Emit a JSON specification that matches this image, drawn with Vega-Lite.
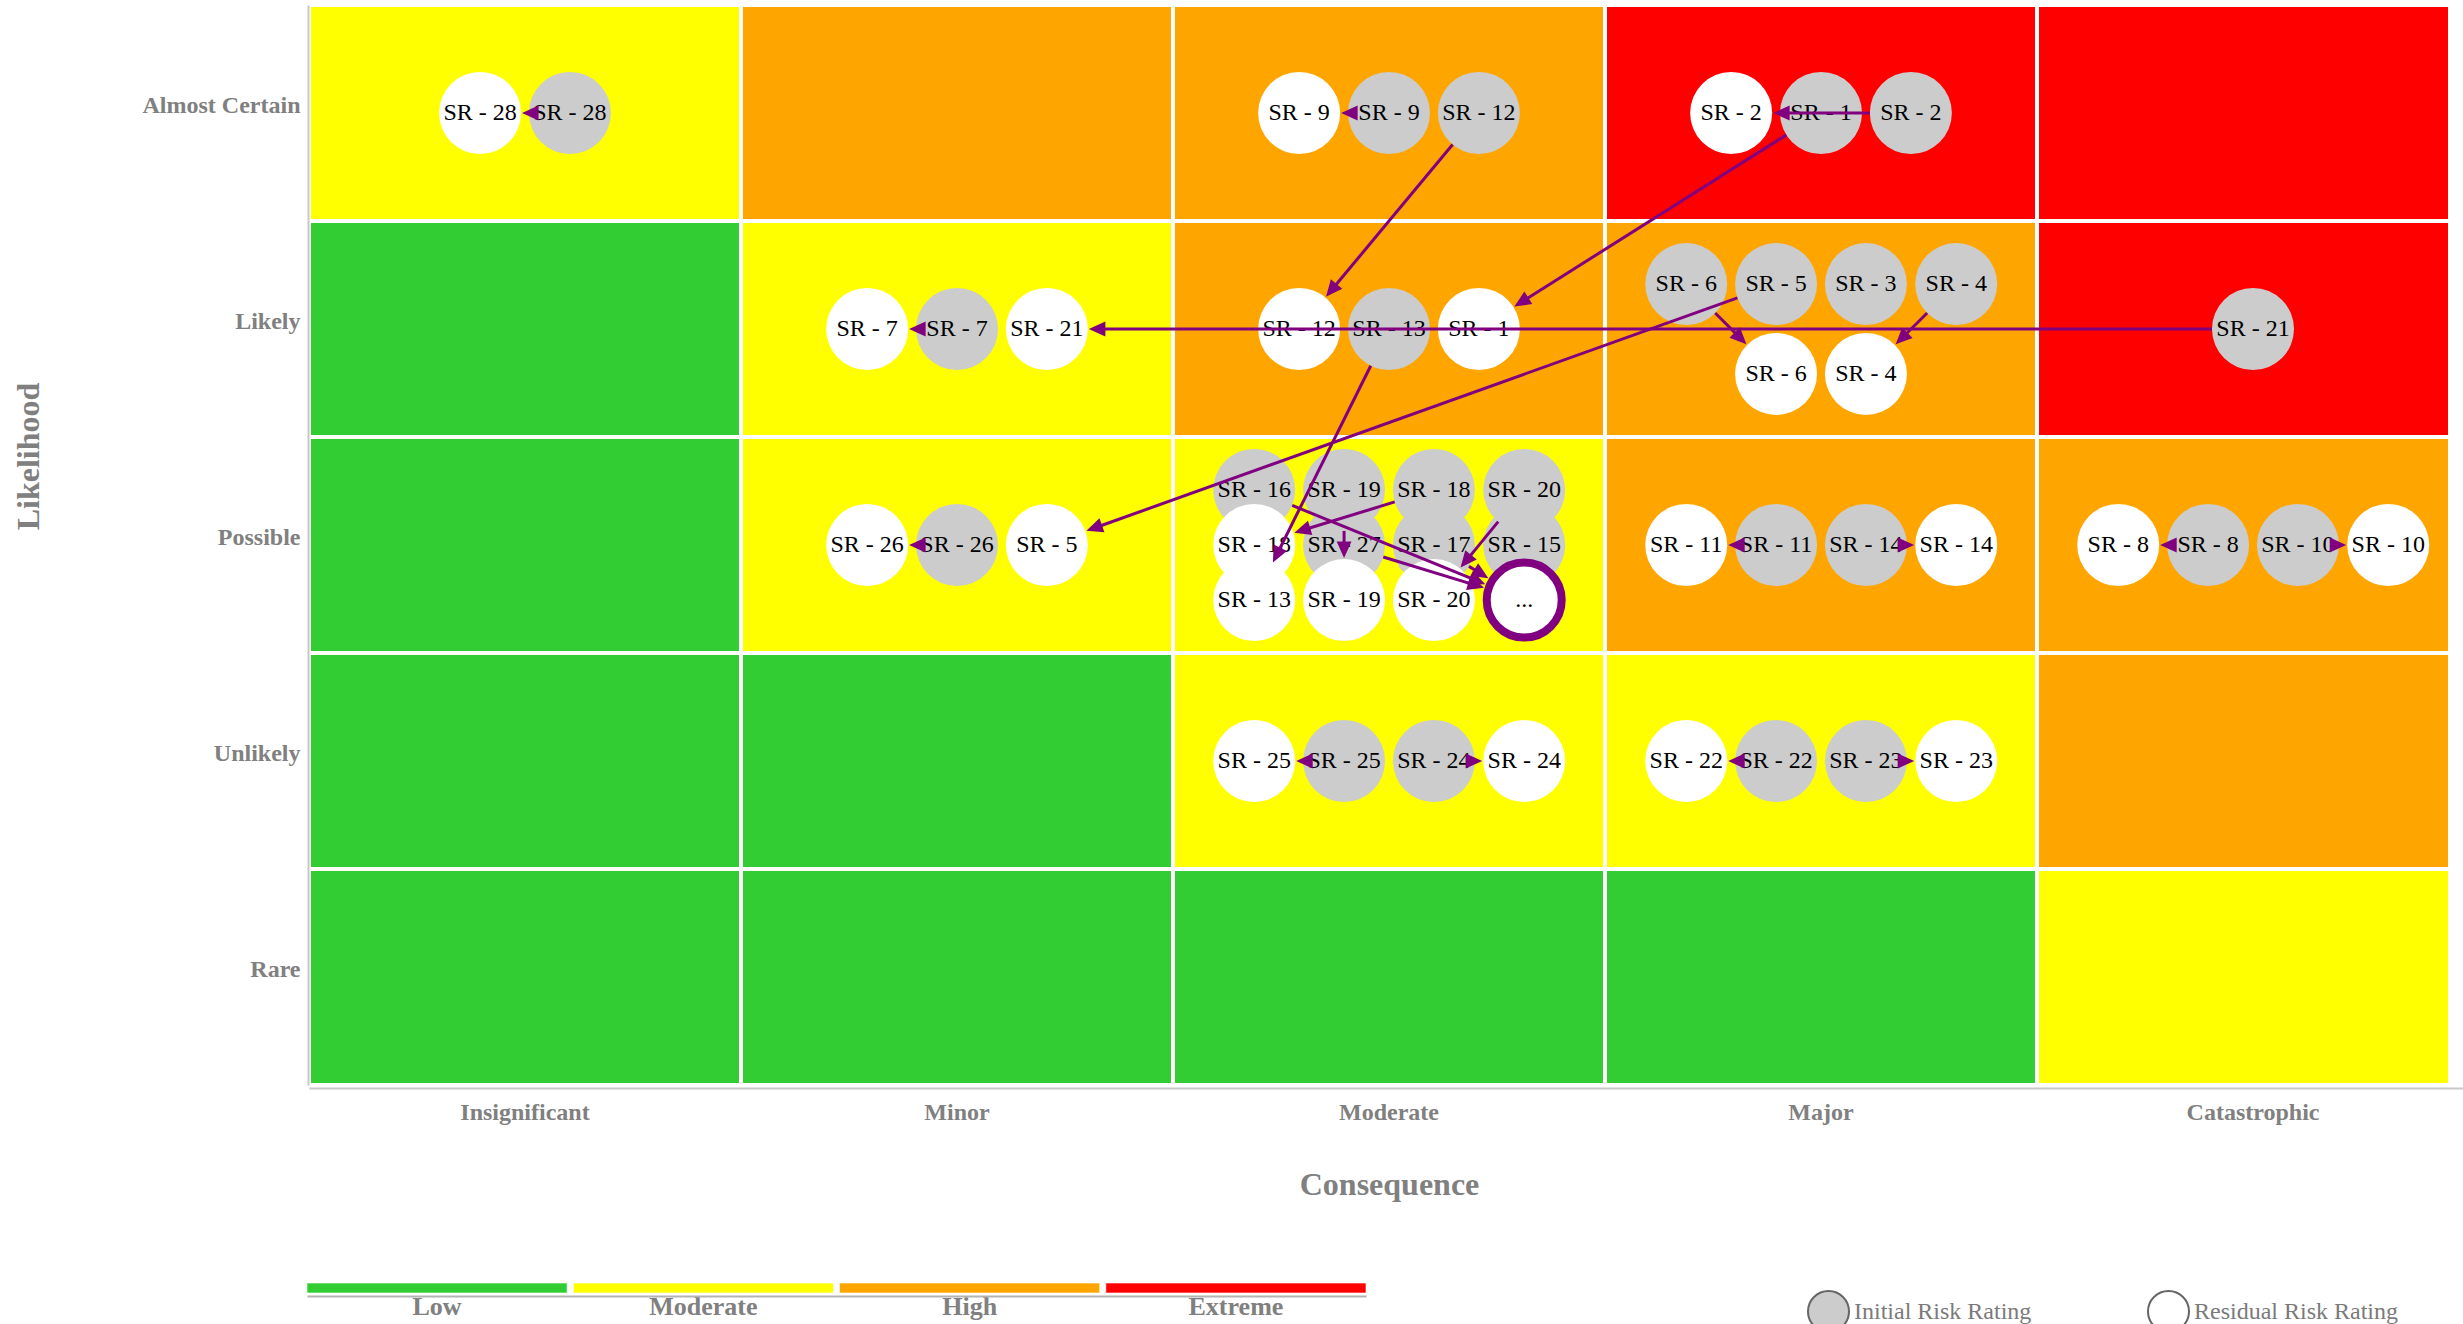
{
  "$schema": "https://vega.github.io/schema/vega-lite/v6.json",
  "width": 2139,
  "height": 1080,
  "autosize": {"type": "none"},
  "padding": {"left": 309, "top": 5, "right": 15, "bottom": 239},
  "background": "white",
  "config": {
    "view": {"stroke": null},
    "font": "Liberation Serif",
    "axis": {
      "ticks": false, "tickSize": 0, "grid": false,
      "domainColor": "#c8c8c8", "domainWidth": 2,
      "labelFont": "Liberation Serif", "titleFont": "Liberation Serif",
      "labelColor": "#808080", "titleColor": "#808080",
      "labelFontWeight": "bold", "titleFontWeight": "bold"
    }
  },
  "datasets": {
    "cells": [
      {"consequence": "Insignificant", "likelihood": "Almost Certain", "risk": "Moderate"},
      {"consequence": "Minor", "likelihood": "Almost Certain", "risk": "High"},
      {"consequence": "Moderate", "likelihood": "Almost Certain", "risk": "High"},
      {"consequence": "Major", "likelihood": "Almost Certain", "risk": "Extreme"},
      {"consequence": "Catastrophic", "likelihood": "Almost Certain", "risk": "Extreme"},
      {"consequence": "Insignificant", "likelihood": "Likely", "risk": "Low"},
      {"consequence": "Minor", "likelihood": "Likely", "risk": "Moderate"},
      {"consequence": "Moderate", "likelihood": "Likely", "risk": "High"},
      {"consequence": "Major", "likelihood": "Likely", "risk": "High"},
      {"consequence": "Catastrophic", "likelihood": "Likely", "risk": "Extreme"},
      {"consequence": "Insignificant", "likelihood": "Possible", "risk": "Low"},
      {"consequence": "Minor", "likelihood": "Possible", "risk": "Moderate"},
      {"consequence": "Moderate", "likelihood": "Possible", "risk": "Moderate"},
      {"consequence": "Major", "likelihood": "Possible", "risk": "High"},
      {"consequence": "Catastrophic", "likelihood": "Possible", "risk": "High"},
      {"consequence": "Insignificant", "likelihood": "Unlikely", "risk": "Low"},
      {"consequence": "Minor", "likelihood": "Unlikely", "risk": "Low"},
      {"consequence": "Moderate", "likelihood": "Unlikely", "risk": "Moderate"},
      {"consequence": "Major", "likelihood": "Unlikely", "risk": "Moderate"},
      {"consequence": "Catastrophic", "likelihood": "Unlikely", "risk": "High"},
      {"consequence": "Insignificant", "likelihood": "Rare", "risk": "Low"},
      {"consequence": "Minor", "likelihood": "Rare", "risk": "Low"},
      {"consequence": "Moderate", "likelihood": "Rare", "risk": "Low"},
      {"consequence": "Major", "likelihood": "Rare", "risk": "Low"},
      {"consequence": "Catastrophic", "likelihood": "Rare", "risk": "Moderate"}
    ],
    "levels": [
      {"risk": "Low"}, {"risk": "Moderate"}, {"risk": "High"}, {"risk": "Extreme"}
    ],
    "circles": [
      {"id": "SR - 28", "rating": "Residual Risk Rating", "x": 0.896, "y": 5},
      {"id": "SR - 28", "rating": "Initial Risk Rating", "x": 1.104, "y": 5},
      {"id": "SR - 9", "rating": "Residual Risk Rating", "x": 2.792, "y": 5},
      {"id": "SR - 9", "rating": "Initial Risk Rating", "x": 3.0, "y": 5},
      {"id": "SR - 12", "rating": "Initial Risk Rating", "x": 3.208, "y": 5},
      {"id": "SR - 2", "rating": "Residual Risk Rating", "x": 3.792, "y": 5},
      {"id": "SR - 1", "rating": "Initial Risk Rating", "x": 4.0, "y": 5},
      {"id": "SR - 2", "rating": "Initial Risk Rating", "x": 4.208, "y": 5},
      {"id": "SR - 7", "rating": "Residual Risk Rating", "x": 1.792, "y": 4},
      {"id": "SR - 7", "rating": "Initial Risk Rating", "x": 2.0, "y": 4},
      {"id": "SR - 21", "rating": "Residual Risk Rating", "x": 2.208, "y": 4},
      {"id": "SR - 12", "rating": "Residual Risk Rating", "x": 2.792, "y": 4},
      {"id": "SR - 13", "rating": "Initial Risk Rating", "x": 3.0, "y": 4},
      {"id": "SR - 1", "rating": "Residual Risk Rating", "x": 3.208, "y": 4},
      {"id": "SR - 6", "rating": "Initial Risk Rating", "x": 3.688, "y": 4.208},
      {"id": "SR - 5", "rating": "Initial Risk Rating", "x": 3.896, "y": 4.208},
      {"id": "SR - 3", "rating": "Initial Risk Rating", "x": 4.104, "y": 4.208},
      {"id": "SR - 4", "rating": "Initial Risk Rating", "x": 4.313, "y": 4.208},
      {"id": "SR - 6", "rating": "Residual Risk Rating", "x": 3.896, "y": 3.792},
      {"id": "SR - 4", "rating": "Residual Risk Rating", "x": 4.104, "y": 3.792},
      {"id": "SR - 21", "rating": "Initial Risk Rating", "x": 5.0, "y": 4},
      {"id": "SR - 26", "rating": "Residual Risk Rating", "x": 1.792, "y": 3},
      {"id": "SR - 26", "rating": "Initial Risk Rating", "x": 2.0, "y": 3},
      {"id": "SR - 5", "rating": "Residual Risk Rating", "x": 2.208, "y": 3},
      {"id": "SR - 16", "rating": "Initial Risk Rating", "x": 2.688, "y": 3.255},
      {"id": "SR - 19", "rating": "Initial Risk Rating", "x": 2.896, "y": 3.255},
      {"id": "SR - 18", "rating": "Initial Risk Rating", "x": 3.104, "y": 3.255},
      {"id": "SR - 20", "rating": "Initial Risk Rating", "x": 3.313, "y": 3.255},
      {"id": "SR - 18", "rating": "Residual Risk Rating", "x": 2.688, "y": 3},
      {"id": "SR - 27", "rating": "Initial Risk Rating", "x": 2.896, "y": 3},
      {"id": "SR - 17", "rating": "Initial Risk Rating", "x": 3.104, "y": 3},
      {"id": "SR - 15", "rating": "Initial Risk Rating", "x": 3.313, "y": 3},
      {"id": "SR - 13", "rating": "Residual Risk Rating", "x": 2.688, "y": 2.745},
      {"id": "SR - 19", "rating": "Residual Risk Rating", "x": 2.896, "y": 2.745},
      {"id": "SR - 20", "rating": "Residual Risk Rating", "x": 3.104, "y": 2.745},
      {"id": "SR - 11", "rating": "Residual Risk Rating", "x": 3.688, "y": 3},
      {"id": "SR - 11", "rating": "Initial Risk Rating", "x": 3.896, "y": 3},
      {"id": "SR - 14", "rating": "Initial Risk Rating", "x": 4.104, "y": 3},
      {"id": "SR - 14", "rating": "Residual Risk Rating", "x": 4.313, "y": 3},
      {"id": "SR - 8", "rating": "Residual Risk Rating", "x": 4.688, "y": 3},
      {"id": "SR - 8", "rating": "Initial Risk Rating", "x": 4.896, "y": 3},
      {"id": "SR - 10", "rating": "Initial Risk Rating", "x": 5.104, "y": 3},
      {"id": "SR - 10", "rating": "Residual Risk Rating", "x": 5.313, "y": 3},
      {"id": "SR - 25", "rating": "Residual Risk Rating", "x": 2.688, "y": 2},
      {"id": "SR - 25", "rating": "Initial Risk Rating", "x": 2.896, "y": 2},
      {"id": "SR - 24", "rating": "Initial Risk Rating", "x": 3.104, "y": 2},
      {"id": "SR - 24", "rating": "Residual Risk Rating", "x": 3.313, "y": 2},
      {"id": "SR - 22", "rating": "Residual Risk Rating", "x": 3.688, "y": 2},
      {"id": "SR - 22", "rating": "Initial Risk Rating", "x": 3.896, "y": 2},
      {"id": "SR - 23", "rating": "Initial Risk Rating", "x": 4.104, "y": 2},
      {"id": "SR - 23", "rating": "Residual Risk Rating", "x": 4.313, "y": 2}
    ],
    "more": [
      {"id": "...", "x": 3.313, "y": 2.745}
    ],
    "arrows": [
      {"id": "SR - 28", "x1": 1.104, "y1": 5, "x2": 0.896, "y2": 5},
      {"id": "SR - 9", "x1": 3.0, "y1": 5, "x2": 2.792, "y2": 5},
      {"id": "SR - 12", "x1": 3.208, "y1": 5, "x2": 2.792, "y2": 4},
      {"id": "SR - 2", "x1": 4.208, "y1": 5, "x2": 3.792, "y2": 5},
      {"id": "SR - 1", "x1": 4.0, "y1": 5, "x2": 3.208, "y2": 4},
      {"id": "SR - 7", "x1": 2.0, "y1": 4, "x2": 1.792, "y2": 4},
      {"id": "SR - 21", "x1": 5.0, "y1": 4, "x2": 2.208, "y2": 4},
      {"id": "SR - 13", "x1": 3.0, "y1": 4, "x2": 2.688, "y2": 2.745},
      {"id": "SR - 6", "x1": 3.688, "y1": 4.208, "x2": 3.896, "y2": 3.792},
      {"id": "SR - 4", "x1": 4.313, "y1": 4.208, "x2": 4.104, "y2": 3.792},
      {"id": "SR - 5", "x1": 3.896, "y1": 4.208, "x2": 2.208, "y2": 3},
      {"id": "SR - 26", "x1": 2.0, "y1": 3, "x2": 1.792, "y2": 3},
      {"id": "SR - 16", "x1": 2.688, "y1": 3.255, "x2": 3.313, "y2": 2.745},
      {"id": "SR - 19", "x1": 2.896, "y1": 3.255, "x2": 2.896, "y2": 2.745},
      {"id": "SR - 18", "x1": 3.104, "y1": 3.255, "x2": 2.688, "y2": 3},
      {"id": "SR - 20", "x1": 3.313, "y1": 3.255, "x2": 3.104, "y2": 2.745},
      {"id": "SR - 27", "x1": 2.896, "y1": 3, "x2": 3.313, "y2": 2.745},
      {"id": "SR - 17", "x1": 3.104, "y1": 3, "x2": 3.313, "y2": 2.745},
      {"id": "SR - 11", "x1": 3.896, "y1": 3, "x2": 3.688, "y2": 3},
      {"id": "SR - 14", "x1": 4.104, "y1": 3, "x2": 4.313, "y2": 3},
      {"id": "SR - 8", "x1": 4.896, "y1": 3, "x2": 4.688, "y2": 3},
      {"id": "SR - 10", "x1": 5.104, "y1": 3, "x2": 5.313, "y2": 3},
      {"id": "SR - 25", "x1": 2.896, "y1": 2, "x2": 2.688, "y2": 2},
      {"id": "SR - 24", "x1": 3.104, "y1": 2, "x2": 3.313, "y2": 2},
      {"id": "SR - 22", "x1": 3.896, "y1": 2, "x2": 3.688, "y2": 2},
      {"id": "SR - 23", "x1": 4.104, "y1": 2, "x2": 4.313, "y2": 2}
    ]
  },
  "layer": [
    {
      "data": {"name": "cells"},
      "mark": {"type": "rect", "clip": true, "stroke": "#ffffff", "strokeWidth": 4},
      "encoding": {
        "x": {
          "field": "consequence", "type": "nominal",
          "scale": {"domain": ["Insignificant", "Minor", "Moderate", "Major", "Catastrophic"], "range": [0, 2160], "paddingInner": 0, "paddingOuter": 0},
          "axis": {"title": "Consequence", "orient": "bottom", "offset": 3, "labelAngle": 0, "labelFontSize": 24, "labelBaseline": "top", "labelPadding": 12, "titleFontSize": 32, "titleY": 96, "titleBaseline": "middle"}
        },
        "y": {
          "field": "likelihood", "type": "nominal",
          "scale": {"domain": ["Almost Certain", "Likely", "Possible", "Unlikely", "Rare"], "paddingInner": 0, "paddingOuter": 0},
          "axis": {"title": "Likelihood", "orient": "left", "offset": 1, "labelFontSize": 24, "labelBaseline": "alphabetic", "labelPadding": 8, "titleFontSize": 32, "titleX": -280, "titleY": 451, "titleAngle": 270, "titleBaseline": "middle", "titleAlign": "center"}
        },
        "fill": {
          "field": "risk", "type": "nominal",
          "scale": {"domain": ["Low", "Moderate", "High", "Extreme"], "range": ["#32cd32", "#ffff00", "#ffa500", "#ff0000"]},
          "legend": null
        }
      }
    },
    {
      "layer": [
        {
          "data": {"name": "circles"},
          "mark": {"type": "circle", "size": 6724, "opacity": 1, "strokeWidth": 0},
          "encoding": {
            "x": {"field": "x", "type": "quantitative", "scale": {"domain": [0.5, 5.5], "range": [0, 2160], "nice": false, "zero": false}, "axis": null},
            "y": {"field": "y", "type": "quantitative", "scale": {"domain": [0.5, 5.5], "nice": false, "zero": false}, "axis": null},
            "fill": {
              "field": "rating", "type": "nominal",
              "scale": {"domain": ["Initial Risk Rating", "Residual Risk Rating"], "range": ["#cccccc", "#ffffff"]},
              "legend": {
                "orient": "none", "legendX": 1498, "legendY": 1285, "direction": "horizontal", "title": null,
                "symbolType": "circle", "symbolSize": 1681, "symbolStrokeColor": "#666666", "symbolStrokeWidth": 2, "symbolOpacity": 1,
                "labelFont": "Liberation Serif", "labelFontSize": 24, "labelColor": "#7a7a7a", "labelOffset": 4, "labelLimit": 0,
                "columnPadding": 112, "padding": 0
              }
            }
          }
        },
        {
          "data": {"name": "circles"},
          "mark": {"type": "text", "font": "Liberation Serif", "fontSize": 24, "color": "#000000", "align": "center", "baseline": "middle"},
          "encoding": {
            "x": {"field": "x", "type": "quantitative", "scale": {"domain": [0.5, 5.5], "range": [0, 2160], "nice": false, "zero": false}, "axis": null},
            "y": {"field": "y", "type": "quantitative", "scale": {"domain": [0.5, 5.5], "nice": false, "zero": false}, "axis": null},
            "text": {"field": "id", "type": "nominal"}
          }
        },
        {
          "data": {"name": "more"},
          "mark": {"type": "circle", "size": 5625, "opacity": 1, "fill": "#ffffff", "stroke": "#800080", "strokeWidth": 8},
          "encoding": {
            "x": {"field": "x", "type": "quantitative", "scale": {"domain": [0.5, 5.5], "range": [0, 2160], "nice": false, "zero": false}, "axis": null},
            "y": {"field": "y", "type": "quantitative", "scale": {"domain": [0.5, 5.5], "nice": false, "zero": false}, "axis": null}
          }
        },
        {
          "data": {"name": "more"},
          "mark": {"type": "text", "font": "Liberation Serif", "fontSize": 24, "color": "#000000", "align": "center", "baseline": "middle"},
          "encoding": {
            "x": {"field": "x", "type": "quantitative", "scale": {"domain": [0.5, 5.5], "range": [0, 2160], "nice": false, "zero": false}, "axis": null},
            "y": {"field": "y", "type": "quantitative", "scale": {"domain": [0.5, 5.5], "nice": false, "zero": false}, "axis": null},
            "text": {"field": "id", "type": "nominal"}
          }
        },
        {
          "data": {"name": "arrows"},
          "transform": [
            {"calculate": "(datum.x2 - datum.x1) * 432", "as": "dxp"},
            {"calculate": "(datum.y2 - datum.y1) * 216", "as": "dyp"},
            {"calculate": "sqrt(datum.dxp * datum.dxp + datum.dyp * datum.dyp)", "as": "len"},
            {"calculate": "datum.x1 + 41 * datum.dxp / datum.len / 432", "as": "sx"},
            {"calculate": "datum.y1 + 41 * datum.dyp / datum.len / 216", "as": "sy"},
            {"calculate": "datum.x2 - 42 * datum.dxp / datum.len / 432", "as": "ex"},
            {"calculate": "datum.y2 - 42 * datum.dyp / datum.len / 216", "as": "ey"},
            {"calculate": "datum.x2 - 52 * datum.dxp / datum.len / 432", "as": "lx"},
            {"calculate": "datum.y2 - 52 * datum.dyp / datum.len / 216", "as": "ly"},
            {"calculate": "atan2(-datum.dyp, datum.dxp) * 180 / PI", "as": "ang"}
          ],
          "layer": [
            {
              "mark": {"type": "rule", "color": "#800080", "strokeWidth": 3},
              "encoding": {
                "x": {"field": "sx", "type": "quantitative", "scale": {"domain": [0.5, 5.5], "range": [0, 2160], "nice": false, "zero": false}, "axis": null},
                "y": {"field": "sy", "type": "quantitative", "scale": {"domain": [0.5, 5.5], "nice": false, "zero": false}, "axis": null},
                "x2": {"field": "lx"},
                "y2": {"field": "ly"}
              }
            },
            {
              "mark": {"type": "point", "shape": "M0,0L-1,-0.45L-1,0.45Z", "filled": true, "opacity": 1, "color": "#800080", "size": 1089, "strokeWidth": 0},
              "encoding": {
                "x": {"field": "ex", "type": "quantitative", "scale": {"domain": [0.5, 5.5], "range": [0, 2160], "nice": false, "zero": false}, "axis": null},
                "y": {"field": "ey", "type": "quantitative", "scale": {"domain": [0.5, 5.5], "nice": false, "zero": false}, "axis": null},
                "angle": {"field": "ang", "type": "quantitative", "scale": null}
              }
            }
          ]
        }
      ]
    },
    {
      "data": {"name": "levels"},
      "mark": {"type": "rect", "stroke": "#ffffff", "strokeWidth": 1, "strokeOpacity": 0.6},
      "encoding": {
        "x": {
          "field": "risk", "type": "nominal",
          "scale": {"domain": ["Low", "Moderate", "High", "Extreme"], "range": [-2, 1057], "paddingInner": 0.023, "paddingOuter": 0},
          "axis": {"orient": "bottom", "offset": 211, "title": null, "labelAngle": 0, "labelFontSize": 26, "labelBaseline": "top", "labelPadding": -3, "domainColor": "#b4b4b4", "domainWidth": 2}
        },
        "y": {"datum": 0, "type": "quantitative", "scale": {"domain": [0, 1], "range": [1288, 1278]}, "axis": null},
        "y2": {"datum": 1},
        "fill": {
          "field": "risk", "type": "nominal",
          "scale": {"domain": ["Low", "Moderate", "High", "Extreme"], "range": ["#32cd32", "#ffff00", "#ffa500", "#ff0000"]},
          "legend": null
        }
      }
    }
  ],
  "resolve": {
    "scale": {"x": "independent", "y": "independent", "fill": "independent"},
    "axis": {"x": "independent", "y": "independent"},
    "legend": {"fill": "independent"}
  }
}
